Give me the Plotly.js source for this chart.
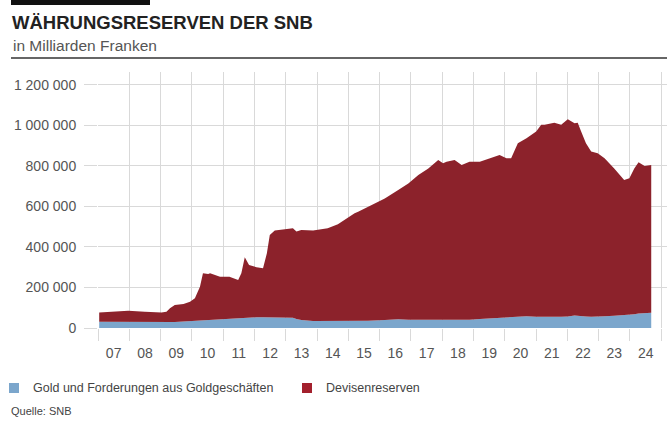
<!DOCTYPE html>
<html>
<head>
<meta charset="utf-8">
<script src="https://cdn.plot.ly/plotly-3.0.1.min.js"></script>
<style>html,body{margin:0;padding:0;background:#fff;}#chart{width:667px;height:426px;}</style>
</head>
<body>
<div id="chart"></div>
<script>
// Dates and values in millions of CHF
const dates = ['2007-01-15','2007-07-15','2007-12-20','2008-07-01','2009-01-10','2009-03-10','2009-04-20','2009-06-15','2009-09-25','2009-12-10',
 '2010-02-05','2010-04-05','2010-05-10','2010-07-10','2010-08-01','2010-11-25','2011-03-15','2011-06-25','2011-08-01','2011-09-10',
 '2011-10-30','2012-01-25','2012-04-10','2012-05-25','2012-06-28','2012-08-25','2013-03-25','2013-05-05','2013-07-01','2013-11-15',
 '2014-05-05','2014-09-01','2015-01-01','2015-03-15','2015-04-25','2015-08-20','2016-03-01','2016-08-05','2016-12-01','2017-03-28',
 '2017-07-22','2017-11-15','2018-01-10','2018-02-20','2018-05-25','2018-08-15','2018-11-15','2019-03-15','2019-07-10','2019-11-01',
 '2020-01-20','2020-03-15','2020-06-01','2020-09-10','2021-01-01','2021-03-01','2021-04-10','2021-08-01','2021-10-20','2022-01-05',
 '2022-03-25','2022-05-01','2022-06-10','2022-08-05','2022-10-05','2022-12-20','2023-03-10','2023-07-01','2023-10-25','2023-12-25',
 '2024-02-20','2024-04-10','2024-06-20','2024-09-05'];
const gold = [31000,31000,31000,30000,28000,28000,29000,30000,32000,34000,
 35000,36000,37000,38000,39000,42000,45000,48000,50000,52000,
 53000,53000,53000,53000,53000,53000,50000,44000,40000,35000,
 35000,36000,36000,36000,36000,36000,39000,43000,41000,42000,
 42000,41000,41000,41000,40000,40000,41000,44000,47000,50000,
 52000,55000,59000,58000,56000,55000,55000,56000,56000,57000,
 62000,60000,58000,57000,56000,56000,58000,60000,63000,64000,
 68000,72000,74000,75000];
const devisen = [46000,49000,54000,50000,49000,52000,68000,83000,86000,96000,
 112000,168000,233000,229000,231000,211000,208000,189000,220000,297000,
 258000,247000,242000,316000,406000,428000,442000,432000,444000,446000,
 457000,476000,511000,530000,538000,563000,601000,638000,673000,713000,
 746000,789000,772000,780000,790000,765000,780000,777000,791000,804000,
 786000,783000,853000,879000,914000,948000,948000,958000,947000,974000,
 949000,954000,912000,855000,815000,807000,780000,728000,668000,675000,
 720000,746000,726000,730000];
const yTickVals = [0,200000,400000,600000,800000,1000000,1200000];
const yTickText = ['0','200 000','400 000','600 000','800 000','1 000 000','1 200 000'];
const seriesNames = ['Gold und Forderungen aus Goldgeschäften','Devisenreserven'];
const colors = ['#7ba6cc','#8c222b'];

const grid = '#d9d9d9';
const font = 'Liberation Sans, Arial, sans-serif';
const W = 667, H = 426, L = 98, R = 0, T = 72, B = 98;
const pw = W - L - R, ph = H - T - B;
const px = v => (v - L) / pw;
const py = v => (H - B - v) / ph;

const traces = [
  {x: dates, y: gold, name: seriesNames[0], type: 'scatter', mode: 'lines', stackgroup: 'one',
   line: {width: 0, color: colors[0]}, fillcolor: colors[0], showlegend: false, hoverinfo: 'skip'},
  {x: dates, y: devisen, name: seriesNames[1], type: 'scatter', mode: 'lines', stackgroup: 'one',
   line: {width: 0, color: colors[1]}, fillcolor: colors[1], showlegend: false, hoverinfo: 'skip'}
];

const layout = {
  width: W, height: H,
  margin: {l: L, r: R, t: T, b: B, pad: 0},
  paper_bgcolor: '#fff', plot_bgcolor: '#fff',
  font: {family: font, color: '#555', size: 14},
  title: {text: '<b>WÄHRUNGSRESERVEN DER SNB</b>', x: 12 / W, xanchor: 'left', y: 1 - 22.5 / H, yanchor: 'middle',
    font: {family: font, size: 18.5, color: '#222'}},
  xaxis: {type: 'date', range: ['2007-01-01', '2025-03-08'], tick0: '2007-01-01', dtick: 'M12',
    tickformat: '%y', ticklabelmode: 'period', ticks: 'outside', ticklen: 12, tickcolor: grid, tickwidth: 1,
    showgrid: true, gridcolor: grid, gridwidth: 1, zeroline: false, showline: false,
    tickfont: {family: font, size: 14, color: '#555'}, fixedrange: true},
  yaxis: {range: [0, 1264000], tickvals: yTickVals, ticktext: yTickText, ticks: 'outside', ticklen: 13,
    tickcolor: grid, tickwidth: 1, showgrid: true, gridcolor: grid, gridwidth: 1, zeroline: false, showline: false,
    ticklabelstandoff: 5, tickfont: {family: font, size: 14, color: '#555'}, fixedrange: true},
  shapes: [
    {type: 'rect', xref: 'paper', yref: 'paper', x0: px(11), x1: px(150), y0: py(5), y1: py(-2),
     fillcolor: '#111', line: {width: 0}},
    {type: 'line', xref: 'paper', yref: 'paper', x0: px(11), x1: px(667), y0: py(58), y1: py(58),
     line: {color: '#666', width: 2}},
    {type: 'rect', xref: 'paper', yref: 'paper', x0: px(9), x1: px(19), y0: py(393), y1: py(383),
     fillcolor: colors[0], line: {width: 0}},
    {type: 'rect', xref: 'paper', yref: 'paper', x0: px(302), x1: px(312), y0: py(393), y1: py(383),
     fillcolor: '#a3202d', line: {width: 0}}
  ],
  annotations: [
    {text: 'in Milliarden Franken', xref: 'paper', yref: 'paper', x: px(11), y: py(45), xanchor: 'left', yanchor: 'middle',
     showarrow: false, font: {family: font, size: 15.5, color: '#555'}},
    {text: seriesNames[0], xref: 'paper', yref: 'paper', x: px(31), y: py(388), xanchor: 'left', yanchor: 'middle',
     showarrow: false, font: {family: font, size: 12.5, color: '#444'}},
    {text: seriesNames[1], xref: 'paper', yref: 'paper', x: px(324), y: py(388), xanchor: 'left', yanchor: 'middle',
     showarrow: false, font: {family: font, size: 12.5, color: '#444'}},
    {text: 'Quelle: SNB', xref: 'paper', yref: 'paper', x: px(9), y: py(411), xanchor: 'left', yanchor: 'middle',
     showarrow: false, font: {family: font, size: 11, color: '#444'}}
  ]
};

Plotly.newPlot('chart', traces, layout, {displayModeBar: false, staticPlot: true});
</script>
</body>
</html>
